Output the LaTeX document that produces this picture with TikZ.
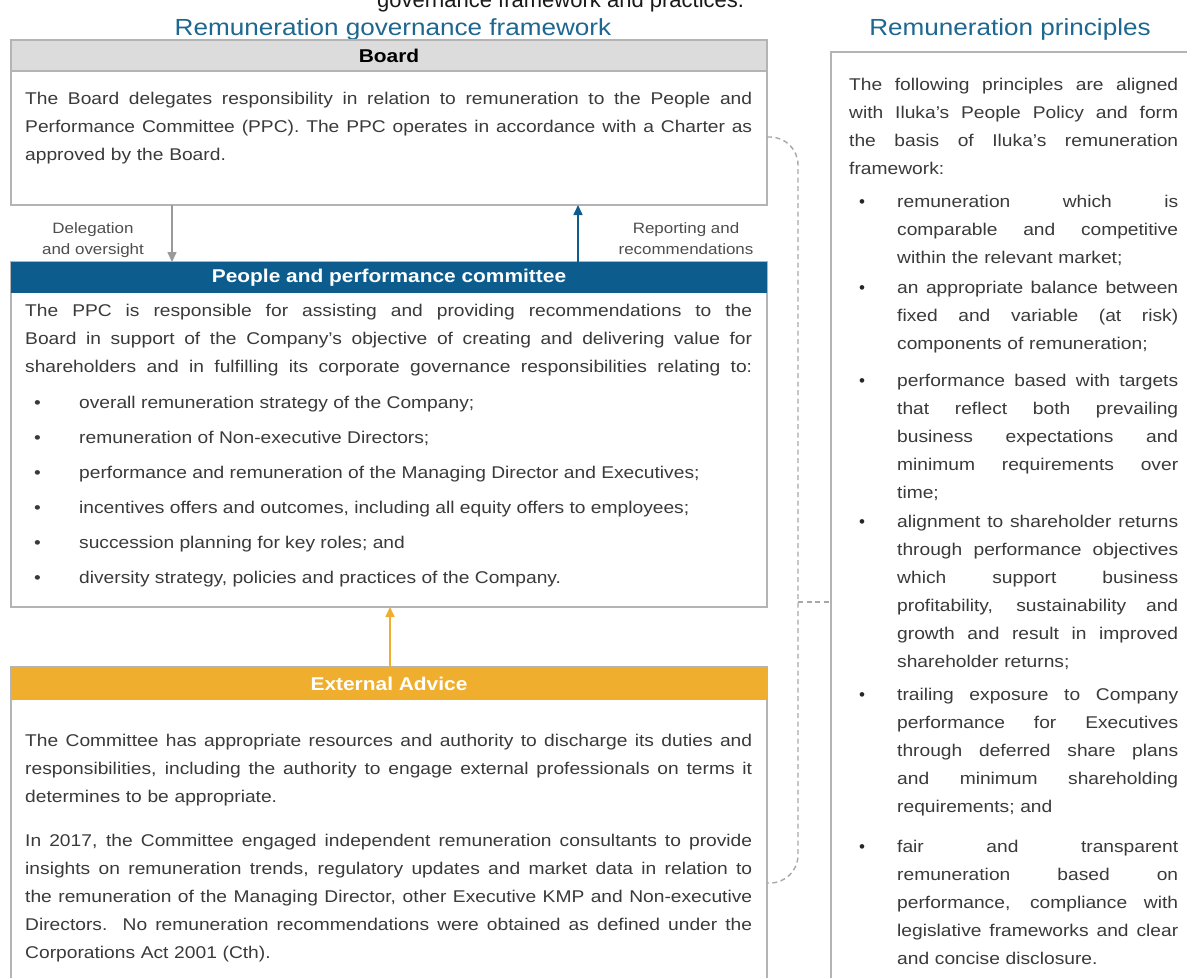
\documentclass[tikz,border=0pt]{standalone}
\usepackage{fontspec}
\setmainfont{Liberation Sans}
\newfontfamily\lf[FakeStretch=1.13]{Liberation Sans}
\newfontfamily\tf[FakeStretch=1.12]{Liberation Sans}
\newfontfamily\rf{Liberation Sans}
\usetikzlibrary{arrows.meta}
\definecolor{txt}{HTML}{3A3A3A}
\definecolor{ttl}{HTML}{1D6790}
\definecolor{hdrgray}{HTML}{DCDCDC}
\definecolor{boxgray}{HTML}{B4B4B4}
\definecolor{ppcblue}{HTML}{0C5C8E}
\definecolor{advorange}{HTML}{EFAE2D}
\definecolor{arrgray}{HTML}{9A9A9A}
\definecolor{dashgray}{HTML}{A8A8A8}
\newcommand\jl[1]{\makebox[\hsize][s]{\spaceskip=0pt\xspaceskip=0pt\relax#1}}
\tikzset{
  box/.style={draw=boxgray, line width=1.2pt, fill=white, anchor=north west, inner sep=0pt, outer sep=0pt, minimum width=756pt},
  hdr/.style={anchor=north west, inner sep=0pt, outer sep=0pt, minimum width=756pt, minimum height=31pt, font=\lf\fontsize{18.5}{20}\selectfont\bfseries},
  lpara/.style={anchor=north west, inner sep=0pt, text width=727pt, align=left, text=txt, font=\lf\fontsize{17}{28}\selectfont},
  lbul/.style={anchor=base west, inner sep=0pt, text=txt, font=\lf\fontsize{17}{28}\selectfont},
  rpara/.style={anchor=north west, inner sep=0pt, text width=329pt, align=left, text=txt, font=\lf\fontsize{17}{28}\selectfont},
  ritem/.style={anchor=north west, inner sep=0pt, text width=281pt, align=left, text=txt, font=\lf\fontsize{17}{28}\selectfont},
  rdot/.style={anchor=base, inner sep=0pt, text=black!85, font=\rf\fontsize{17}{28}\selectfont},
  title/.style={anchor=base, inner sep=0pt, text=ttl, font=\tf\fontsize{23.3}{26}\selectfont},
  lab/.style={anchor=base, inner sep=0pt, align=center, text=txt!90, font=\lf\fontsize{15}{21}\selectfont},
  arr/.style={line width=1.6pt, -{Triangle[length=10pt,width=9pt]}},
  dashc/.style={draw=dashgray, line width=1.4pt, dash pattern=on 5pt off 3.5pt},
}
\begin{document}
\begin{tikzpicture}[x=1pt,y=-1pt]
\clip (0,0) rectangle (1187,978);
\useasboundingbox (0,0) rectangle (1187,978);
\fill[white] (0,0) rectangle (1187,978);

% cut-off caption at the very top
\node[anchor=base west, inner sep=0pt, text=black!90, font=\rf\fontsize{22}{24}\selectfont] (cut) at (377,7) {governance framework and practices.};

% titles
\node[title] (ltitle) at (393,35) {Remuneration governance framework};
\node[title] (rtitle) at (1010,35) {Remuneration principles};

% boxes
\node[box, minimum height=165pt] (board) at (11,40) {};
\node[hdr, fill=hdrgray, draw=boxgray, line width=1.2pt, text=black] (boardhd) at (11,40) {Board};

\node[box, minimum height=345pt] (ppc) at (11,262) {};
\node[hdr, fill=ppcblue, text=white] (ppchd) at (11,262) {People and performance committee};

\node[box, minimum height=345pt] (ext) at (11,667) {};
\node[hdr, fill=advorange, minimum height=33pt, text=white] (exthd) at (11,667) {External Advice};

\node[box, minimum width=400pt, minimum height=960pt] (right) at (831,52) {};

% board text
\node[lpara] (boardtxt) at (25,84.4) {\strut\jl{The Board delegates responsibility in relation to remuneration to the People and}\\
\jl{Performance Committee (PPC). The PPC operates in accordance with a Charter as}\\
approved by the Board.};

% ppc text
\node[lpara] (ppctxt) at (25,296.4) {\strut\jl{The PPC is responsible for assisting and providing recommendations to the}\\
\jl{Board in support of the Company’s objective of creating and delivering value for}\\
\jl{shareholders and in fulfilling its corporate governance responsibilities relating to:}};
\node[lbul] (pb1) at (34,408) {\makebox[45pt][l]{•}overall remuneration strategy of the Company;};
\node[lbul] (pb2) at (34,443) {\makebox[45pt][l]{•}remuneration of Non-executive Directors;};
\node[lbul] (pb3) at (34,478) {\makebox[45pt][l]{•}performance and remuneration of the Managing Director and Executives;};
\node[lbul] (pb4) at (34,513) {\makebox[45pt][l]{•}incentives offers and outcomes, including all equity offers to employees;};
\node[lbul] (pb5) at (34,548) {\makebox[45pt][l]{•}succession planning for key roles; and};
\node[lbul] (pb6) at (34,583) {\makebox[45pt][l]{•}diversity strategy, policies and practices of the Company.};

% external advice text
\node[lpara] (exttxt1) at (25,726.4) {\strut\jl{The Committee has appropriate resources and authority to discharge its duties and}\\
\jl{responsibilities, including the authority to engage external professionals on terms it}\\
determines to be appropriate.};
\node[lpara] (exttxt2) at (25,826.4) {\strut\jl{In 2017, the Committee engaged independent remuneration consultants to provide}\\
\jl{insights on remuneration trends, regulatory updates and market data in relation to}\\
\jl{the remuneration of the Managing Director, other Executive KMP and Non-executive}\\
\jl{Directors. No remuneration recommendations were obtained as defined under the}\\
Corporations Act 2001 (Cth).};

% arrow labels
\node[lab] (dlab) at (93,254) {Delegation\\and oversight};
\node[lab] (rlab) at (686,254) {Reporting and\\recommendations};

% arrows
\draw[arr, draw=arrgray, fill=arrgray] ([xshift=161pt]board.south west) -- ([xshift=161pt]ppc.north west);
\draw[arr, draw=ppcblue, fill=ppcblue] ([xshift=567pt]ppc.north west) -- ([xshift=567pt]board.south west);
\draw[arr, draw=advorange, fill=advorange] ([xshift=379pt]ext.north west) -- ([xshift=379pt]ppc.south west);

% dashed connector
\coordinate (c1) at ([yshift=-97pt]board.north east);
\coordinate (c2) at ([yshift=-216pt]ext.north east);
\coordinate (cj) at (798,602);
\draw[dashc, rounded corners=28pt] (c1) -| (cj) |- (c2);
\draw[dashc] (cj) -- (cj -| right.west);

% right column text
\node[rpara] (rtxt) at (849,70.4) {\strut\jl{The following principles are aligned}\\
\jl{with Iluka’s People Policy and form}\\
\jl{the basis of Iluka’s remuneration}\\
framework:};

\node[rdot] (rb1) at (862,207) {•};
\node[ritem] (ri1) at (897,187.4) {\strut\jl{remuneration which is}\\
\jl{comparable and competitive}\\
within the relevant market;};

\node[rdot] (rb2) at (862,293) {•};
\node[ritem] (ri2) at (897,273.4) {\strut\jl{an appropriate balance between}\\
\jl{fixed and variable (at risk)}\\
components of remuneration;};

\node[rdot] (rb3) at (862,386) {•};
\node[ritem] (ri3) at (897,366.4) {\strut\jl{performance based with targets}\\
\jl{that reflect both prevailing}\\
\jl{business expectations and}\\
\jl{minimum requirements over}\\
time;};

\node[rdot] (rb4) at (862,527) {•};
\node[ritem] (ri4) at (897,507.4) {\strut\jl{alignment to shareholder returns}\\
\jl{through performance objectives}\\
\jl{which support business}\\
\jl{profitability, sustainability and}\\
\jl{growth and result in improved}\\
shareholder returns;};

\node[rdot] (rb5) at (862,700) {•};
\node[ritem] (ri5) at (897,680.4) {\strut\jl{trailing exposure to Company}\\
\jl{performance for Executives}\\
\jl{through deferred share plans}\\
\jl{and minimum shareholding}\\
requirements; and};

\node[rdot] (rb6) at (862,852) {•};
\node[ritem] (ri6) at (897,832.4) {\strut\jl{fair and transparent}\\
\jl{remuneration based on}\\
\jl{performance, compliance with}\\
\jl{legislative frameworks and clear}\\
and concise disclosure.};
\end{tikzpicture}
\end{document}
